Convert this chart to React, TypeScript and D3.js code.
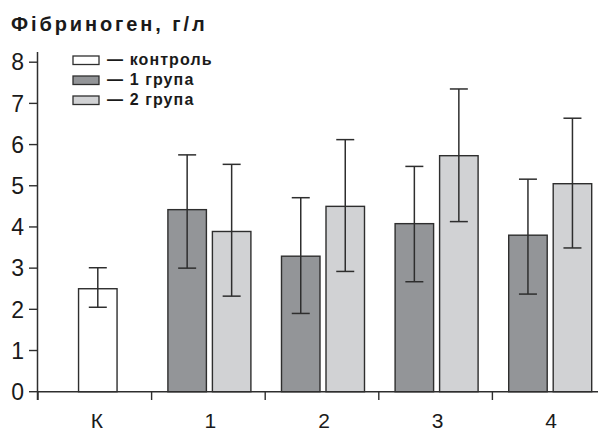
import React from "react";
import * as d3 from "d3";

// Fibrinogen level (g/L) by measurement point: control plus two groups
const categories = ["К", "1", "2", "3", "4"];
const controlMean = [2.5];
const controlLow = [2.05];
const controlHigh = [3.01];
const group1Mean = [4.42, 3.29, 4.08, 3.8];
const group1Low = [3.0, 1.9, 2.67, 2.37];
const group1High = [5.75, 4.71, 5.47, 5.16];
const group2Mean = [3.89, 4.5, 5.73, 5.05];
const group2Low = [2.32, 2.92, 4.13, 3.49];
const group2High = [5.52, 6.12, 7.35, 6.64];
const yTicks = [0, 1, 2, 3, 4, 5, 6, 7, 8];
const legendLabels = ["— контроль", "— 1 група", "— 2 група"];

const W = 598;
const H = 430;
const FONT = "'Liberation Sans', Arial, Helvetica, sans-serif";
const COLORS = ["#ffffff", "#939598", "#d1d2d4"];
const STROKE = "#2e2e2e";

export default function App() {
  const x = d3.scaleBand<string>().domain(categories).range([38, 38 + 5 * 113.6]).padding(0);
  const y = d3.scaleLinear().domain([0, 8]).range([391.7, 62.2]);
  const barW = 38.5;
  const gap = 6;
  const capW = 18;

  type Bar = { x0: number; mean: number; lo: number; hi: number; fill: string };
  const bars: Bar[] = [];
  const kc = x(categories[0])! + x.bandwidth() / 2 + 3;
  bars.push({ x0: kc - barW / 2, mean: controlMean[0], lo: controlLow[0], hi: controlHigh[0], fill: COLORS[0] });
  categories.slice(1).forEach((c, i) => {
    const cx = x(c)! + x.bandwidth() / 2 + 1;
    bars.push({ x0: cx - gap / 2 - barW, mean: group1Mean[i], lo: group1Low[i], hi: group1High[i], fill: COLORS[1] });
    bars.push({ x0: cx + gap / 2, mean: group2Mean[i], lo: group2Low[i], hi: group2High[i], fill: COLORS[2] });
  });

  const axisX = 37.5;
  const baseY = y(0);

  return (
    <svg width={W} height={H} style={{ position: "absolute", left: 0, top: 0, background: "#fff" }} fontFamily={FONT}>
      <text x={11} y={30.5} fontSize={20} fontWeight="bold" fill="#1a1a1a" letterSpacing={2.9}>
        Фібриноген, г/л
      </text>

      {/* bars */}
      {bars.map((b, i) => (
        <rect key={i} x={b.x0} y={y(b.mean)} width={barW} height={baseY - y(b.mean)} fill={b.fill} stroke={STROKE} strokeWidth={1.4} />
      ))}

      {/* error bars */}
      {bars.map((b, i) => {
        const cx = b.x0 + barW / 2;
        return (
          <g key={"e" + i} stroke={STROKE} strokeWidth={1.5}>
            <line x1={cx} x2={cx} y1={y(b.hi)} y2={y(b.lo)} />
            <line x1={cx - capW / 2} x2={cx + capW / 2} y1={y(b.hi)} y2={y(b.hi)} />
            <line x1={cx - capW / 2} x2={cx + capW / 2} y1={y(b.lo)} y2={y(b.lo)} />
          </g>
        );
      })}

      {/* y axis */}
      <line x1={axisX} x2={axisX} y1={52} y2={400} stroke={STROKE} strokeWidth={1.5} />
      {yTicks.map((t) => (
        <g key={t}>
          <line x1={29} x2={axisX} y1={y(t)} y2={y(t)} stroke={STROKE} strokeWidth={1.4} />
          <text x={24} y={y(t)} dy="0.36em" textAnchor="end" fontSize={23} fill="#1a1a1a">
            {t}
          </text>
        </g>
      ))}

      {/* x axis */}
      <line x1={axisX} x2={W} y1={baseY} y2={baseY} stroke={STROKE} strokeWidth={1.5} />
      {categories.map((c) => (
        <g key={c}>
          <line x1={x(c)!} x2={x(c)!} y1={baseY} y2={400} stroke={STROKE} strokeWidth={1.4} />
          <text x={x(c)! + x.bandwidth() / 2 + 2} y={427.5} textAnchor="middle" fontSize={21} fill="#1a1a1a">
            {c}
          </text>
        </g>
      ))}

      {/* legend */}
      {legendLabels.map((l, i) => (
        <g key={l}>
          <rect x={73} y={56 + i * 20} width={26} height={8.5} fill={COLORS[i]} stroke={STROKE} strokeWidth={1.3} />
          <text x={107} y={64.8 + i * 20} fontSize={16} fontWeight="bold" fill="#1a1a1a" letterSpacing={1.1}>
            {l}
          </text>
        </g>
      ))}
    </svg>
  );
}
